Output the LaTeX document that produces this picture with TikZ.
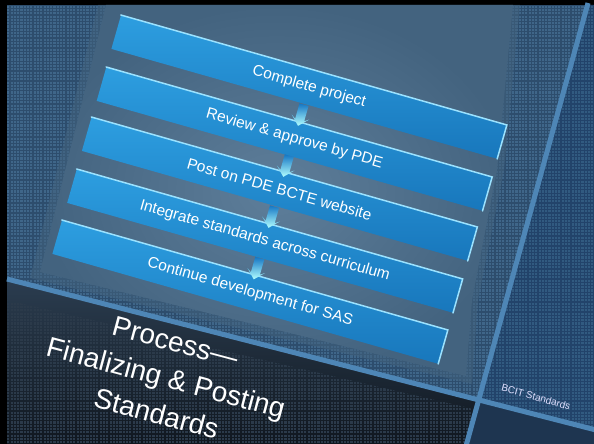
\documentclass[tikz,border=0pt]{standalone}
\usepackage{fontspec}
\setmainfont{Liberation Sans}
\usetikzlibrary{calc,shapes.arrows,patterns}

\definecolor{mainbg}{HTML}{2D4D6D}
\definecolor{maindot}{HTML}{3F6689}
\definecolor{lightin}{HTML}{5E7E9A}
\definecolor{lightout}{HTML}{43637F}
\definecolor{rightbg}{HTML}{22436A}
\definecolor{rightdot}{HTML}{315A80}
\definecolor{lowtop}{HTML}{2B3D50}
\definecolor{lowbot}{HTML}{10171F}
\definecolor{lowdot}{HTML}{2B3A4A}
\definecolor{cornerbg}{HTML}{1E3550}
\definecolor{sepblue}{HTML}{4E86B6}
\definecolor{barlight}{HTML}{2D9EE0}
\definecolor{bardark}{HTML}{1877BC}
\definecolor{barhl}{HTML}{9BE2FF}
\definecolor{arrowblue}{HTML}{1476C4}

\pgfdeclarepatternformonly{halftone}{\pgfqpoint{-0.1pt}{-0.1pt}}{\pgfqpoint{3.4pt}{3.4pt}}{\pgfqpoint{3.3pt}{3.3pt}}{%
  \pgfpathrectangle{\pgfqpoint{0.6pt}{0.6pt}}{\pgfqpoint{2.1pt}{2.1pt}}\pgfusepath{fill}}

\tikzset{
  bar/.style={rotate=-15.9, minimum width=401pt, minimum height=35pt, inner sep=0pt,
    top color=barlight, bottom color=bardark, text=white, font=\fontsize{15.5}{18}\selectfont},
  hilite/.style={draw=barhl, line width=1.5pt, line cap=round},
  downarrow/.style={single arrow, rotate=-105.9, inner sep=4.5pt, minimum height=22pt,
    single arrow head extend=4.5pt, single arrow head indent=3pt,
    top color=arrowblue, middle color=arrowblue!80!cyan, bottom color=white!70!cyan},
  sepline/.style={draw=sepblue, line width=5pt},
  heading/.style={rotate=-15, align=center, text=white, font=\fontsize{28}{37}\selectfont},
  footer/.style={rotate=-15.5, text=white!88!blue, font=\fontsize{10}{12}\selectfont},
}

\begin{document}
\begin{tikzpicture}[x=1pt, y=-1pt]
  \useasboundingbox (0,0) rectangle (594,444);

  % slide frame
  \fill [black] (0,0) rectangle (594,444);
  \fill [mainbg] (7,5) rectangle (594,444);
  \fill [pattern=halftone, pattern color=maindot] (7,5) rectangle (594,444);

  % right strip
  \fill [rightbg] (588,5) -- (594,5) -- (594,430) -- (478,400) -- cycle;
  \fill [pattern=halftone, pattern color=rightdot] (588,5) -- (594,5) -- (594,430) -- (478,400) -- cycle;

  % title panel
  \shade [top color=lowtop, bottom color=lowbot] (7,279) -- (478,400) -- (466,444) -- (7,444) -- cycle;
  \fill [pattern=halftone, pattern color=lowdot] (7,300) -- (478,410) -- (466,444) -- (7,444) -- cycle;

  % corner panel
  \fill [cornerbg] (478,400) -- (594,430) -- (594,444) -- (466,444) -- cycle;

  % glow behind the steps
  \begin{scope}
    \clip (7,5) -- (588,5) -- (478,400) -- (7,279) -- cycle;
    \fill [lightout, opacity=0.55]
       (98,5) -- (520,5) -- (504,170) -- (478,300) -- (472,384) -- (30,278) -- cycle;
    \shade [inner color=lightin, outer color=lightout]
       (106,5) -- (513,5) -- (497,170) -- (472,300) -- (466,376) -- (40,272) -- cycle;
  \end{scope}

  % separators
  \draw [sepline] (588,3) -- (466,446);
  \draw [sepline] (7,279) -- (596,430);

  % steps
  \node [bar] (complete)  at (309,87)    {Complete project};
  \node [bar] (review)    at (294.3,139) {Review \& approve by PDE};
  \node [bar] (post)      at (279.5,189) {Post on PDE BCTE website};
  \node [bar] (integrate) at (264.8,241) {Integrate standards across curriculum};
  \node [bar] (continue)  at (250,292)   {Continue development for SAS};

  \draw [hilite] (complete.north west) -- (complete.north east) -- (complete.south east);
  \draw [hilite] (review.north west) -- (review.north east) -- (review.south east);
  \draw [hilite] (post.north west) -- (post.north east) -- (post.south east);
  \draw [hilite] (integrate.north west) -- (integrate.north east) -- (integrate.south east);
  \draw [hilite] (continue.north west) -- (continue.north east) -- (continue.south east);

  % arrows between steps
  \node [downarrow] (a1) at ($(complete)!0.5!(review)$) {};
  \node [downarrow] (a2) at ($(review)!0.5!(post)$) {};
  \node [downarrow] (a3) at ($(post)!0.5!(integrate)$) {};
  \node [downarrow] (a4) at ($(integrate)!0.5!(continue)$) {};

  % texts
  \node [heading] (title) at (166,378) {Process—\\Finalizing \& Posting\\Standards};
  \node [footer] (foot) at (536,397) {BCIT Standards};
\end{tikzpicture}
\end{document}
